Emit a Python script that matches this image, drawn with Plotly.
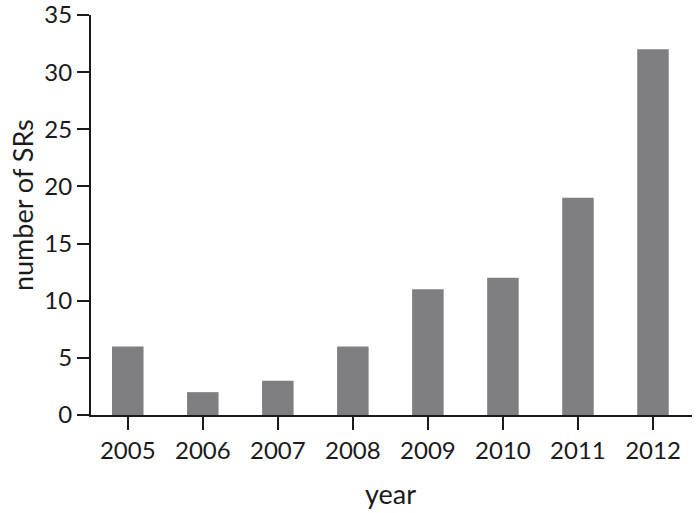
import plotly.graph_objects as go

years = ["2005", "2006", "2007", "2008", "2009", "2010", "2011", "2012"]
counts = [6, 2, 3, 6, 11, 12, 19, 32]
y_ticks = [0, 5, 10, 15, 20, 25, 30, 35]

FONT = "Lato, Open Sans, sans-serif"
INK = "#1a1a1a"

fig = go.Figure(go.Bar(x=years, y=counts, marker=dict(color="#7f7f82", line=dict(width=0)), width=0.42))

fig.update_layout(
    width=700, height=513,
    margin=dict(l=91, r=8, t=15, b=98),
    plot_bgcolor="white", paper_bgcolor="white",
    font=dict(family=FONT, size=24, color=INK),
    showlegend=False,
    annotations=[
        dict(text="year", xref="paper", yref="paper", x=0.499, y=-0.195,
             xanchor="center", yanchor="middle", showarrow=False, font=dict(size=27)),
        dict(text="number of SRs", xref="paper", yref="paper", x=-0.1148, y=0.525,
             xanchor="center", yanchor="middle", showarrow=False, textangle=-90, font=dict(size=27)),
    ],
)
fig.update_xaxes(
    type="category", range=[-0.49, 7.52], automargin=False,
    showline=True, linecolor=INK, linewidth=2,
    ticks="outside", ticklen=13, tickwidth=2, tickcolor=INK,
    showgrid=False, zeroline=False, ticklabeloverflow="allow",
)
fig.update_yaxes(
    range=[0, 35], tickvals=y_ticks, automargin=False,
    showline=True, linecolor=INK, linewidth=2,
    ticks="outside", ticklen=12, tickwidth=2, tickcolor=INK,
    showgrid=False, zeroline=False, ticklabeloverflow="allow",
)

fig.write_html("out.html", config={"displayModeBar": False},
               post_script="document.body.style.margin='0';")
